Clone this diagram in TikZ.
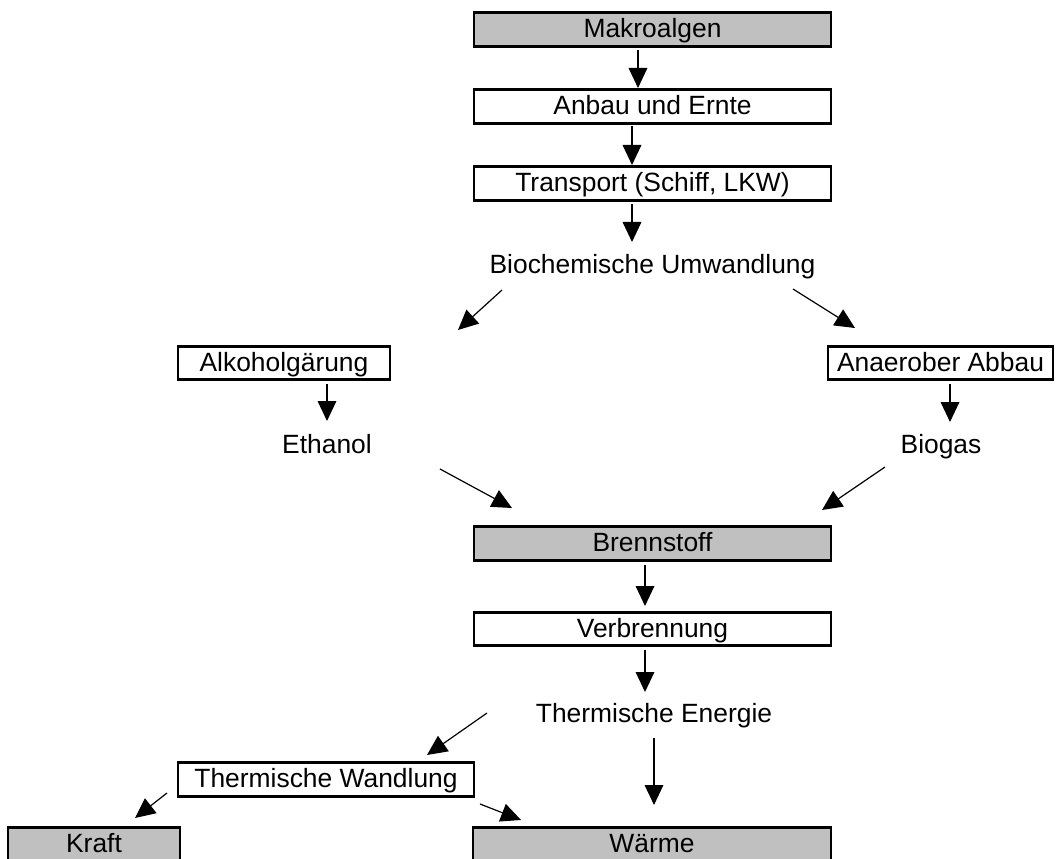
\documentclass[tikz,border=0pt]{standalone}
\usepackage{fontspec}
\setmainfont{Liberation Sans}
\usetikzlibrary{arrows.meta,calc}
\definecolor{algengrau}{HTML}{C0C0C0}
\tikzset{
  kasten/.style={draw,line width=2.2pt,inner sep=0pt,minimum height=25pt,
    text height=14pt,text depth=1.5pt},
  grau/.style={kasten,fill=algengrau},
  stufe/.style={anchor=base,inner sep=0pt},
  pfeil/.style={-{Triangle[length=15pt,width=14pt]},line width=0.9pt}
}

\begin{document}
\begin{tikzpicture}[x=0.75pt,y=-0.75pt,font=\fontsize{19.8pt}{23pt}\selectfont]
  \useasboundingbox (0,0) rectangle (1056,859);

  % Kette bis zur Umwandlung
  \node[grau,minimum width=267.75pt] (mak) at (652.5,29.5) {Makroalgen};
  \node[kasten,minimum width=267.75pt] (anbau) at (652.5,106.5) {Anbau und Ernte};
  \node[kasten,minimum width=267.75pt] (transp) at (652.5,183.5) {Transport (Schiff, LKW)};
  \node[stufe] (bio) at (652.5,273) {Biochemische Umwandlung};

  % zwei Pfade
  \node[kasten,minimum width=159pt] (alk) at (284,363) {Alkoholg\"arung};
  \node[kasten,minimum width=168.75pt] (anae) at (940.5,363) {Anaerober Abbau};
  \node[stufe] (eth) at (327,453) {Ethanol};
  \node[stufe] (biog) at (941,453) {Biogas};

  % Nutzung
  \node[grau,minimum width=267.75pt] (brenn) at (652.5,543.5) {Brennstoff};
  \node[kasten,minimum width=267.75pt] (verb) at (652.5,629) {Verbrennung};
  \node[stufe] (therm) at (654,722) {Thermische Energie};
  \node[kasten,minimum width=222pt] (twand) at (326,779.5) {Thermische Wandlung};
  \node[grau,minimum width=129pt] (kraft) at (94,844) {Kraft};
  \node[grau,minimum width=268.5pt] (waerme) at (652,844) {W\"arme};

  \draw[pfeil] ($(mak)+(-14.5,20.5)$) -- ($(anbau)+(-14.5,-18.5)$);
  \draw[pfeil] ($(anbau)+(-20.5,19.5)$) -- ($(transp)+(-20.5,-18.5)$);
  \draw[pfeil] ($(transp)+(-20.5,20.5)$) -- ($(bio.base)+(-20.5,-31)$);
  \draw[pfeil] ($(bio.base)+(-150.5,17)$) -- ($(alk)+(174,-33)$);
  \draw[pfeil] ($(bio.base)+(140.5,16)$) -- ($(anae)+(-85.5,-35)$);
  \draw[pfeil] ($(alk)+(43,21)$) -- ($(eth.base)+(0,-32)$);
  \draw[pfeil] ($(anae)+(9.5,21)$) -- ($(biog.base)+(9,-31)$);
  \draw[pfeil] ($(eth.base)+(113,16)$) -- ($(brenn)+(-140.5,-35.5)$);
  \draw[pfeil] ($(biog.base)+(-56,14)$) -- ($(brenn)+(169.5,-33.5)$);
  \draw[pfeil] ($(brenn)+(-7.5,21.5)$) -- ($(verb)+(-7.5,-23)$);
  \draw[pfeil] ($(verb)+(-7.5,21)$) -- ($(therm.base)+(-9,-30)$);
  \draw[pfeil] ($(therm.base)+(-167,-9)$) -- ($(twand)+(101,-24.5)$);
  \draw[pfeil] ($(therm.base)+(0,16)$) -- ($(waerme)+(2,-39)$);
  \draw[pfeil] ($(twand)+(-159,13.5)$) -- ($(kraft)+(41,-26)$);
  \draw[pfeil] ($(twand)+(154,24.5)$) -- ($(waerme)+(-131,-24)$);
\end{tikzpicture}
\end{document}
